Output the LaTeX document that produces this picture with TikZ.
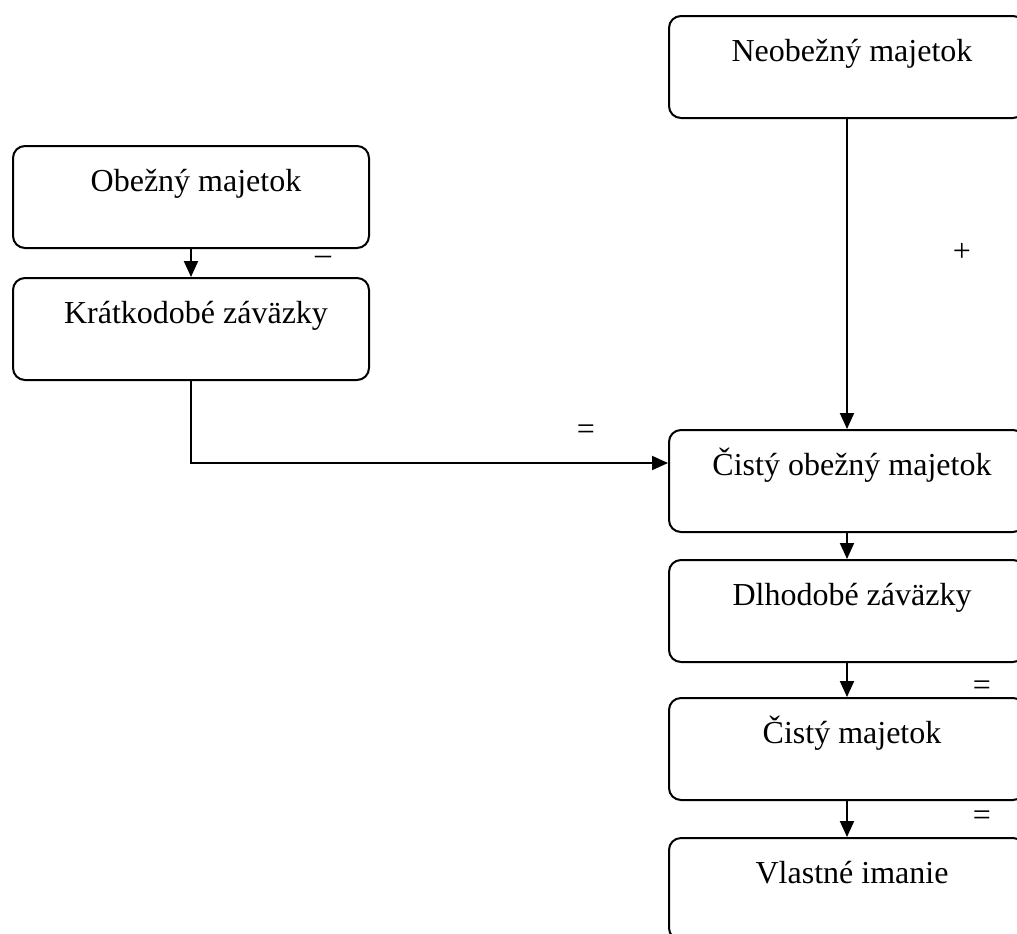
\documentclass[tikz,border=0pt]{standalone}
\usepackage{fontspec}
\setmainfont{Liberation Serif}
\usetikzlibrary{arrows.meta,calc}
\begin{document}
\begin{tikzpicture}[x=0.5pt,y=-0.5pt,
  boxnode/.style={draw, line width=1pt, rounded corners=6pt, anchor=north west,
    minimum width=178pt, minimum height=51pt, inner sep=0pt,
    text height=22.5pt, text depth=28.5pt, font=\fontsize{16pt}{19pt}\selectfont,
    execute at begin node=\hspace*{5pt}},
  arr/.style={line width=1pt, -{Triangle[length=8pt,width=7pt]}},
  sign/.style={font=\fontsize{16pt}{19pt}\selectfont, inner sep=0pt}]
\useasboundingbox (0,0) rectangle (1017,933);
\clip (0,0) rectangle (1017,933);
\node[boxnode] (neob) at (668,15) {Neobežný majetok};
\node[boxnode] (obez) at (12,145) {Obežný majetok};
\node[boxnode] (krat) at (12,277) {Krátkodobé záväzky};
\node[boxnode] (cob) at (668,429) {Čistý obežný majetok};
\node[boxnode] (dlh) at (668,559) {Dlhodobé záväzky};
\node[boxnode] (cm) at (668,697) {Čistý majetok};
\node[boxnode] (vi) at (668,837) {Vlastné imanie};
\draw[arr] (obez) -- (krat);
\draw[arr] (krat.south) |- ([yshift=-17pt]cob.north west);
\draw[arr] (neob) -- (cob);
\draw[arr] (cob) -- (dlh);
\draw[arr] (dlh) -- (cm);
\draw[arr] (cm) -- (vi);
\node[sign] (minus) at (323,260) {–};
\node[sign] (eq1) at (586,432) {=};
\node[sign] (plus) at (962,252) {+};
\node[sign] (eq2) at (982,688) {=};
\node[sign] (eq3) at (982,818) {=};
\end{tikzpicture}
\end{document}
